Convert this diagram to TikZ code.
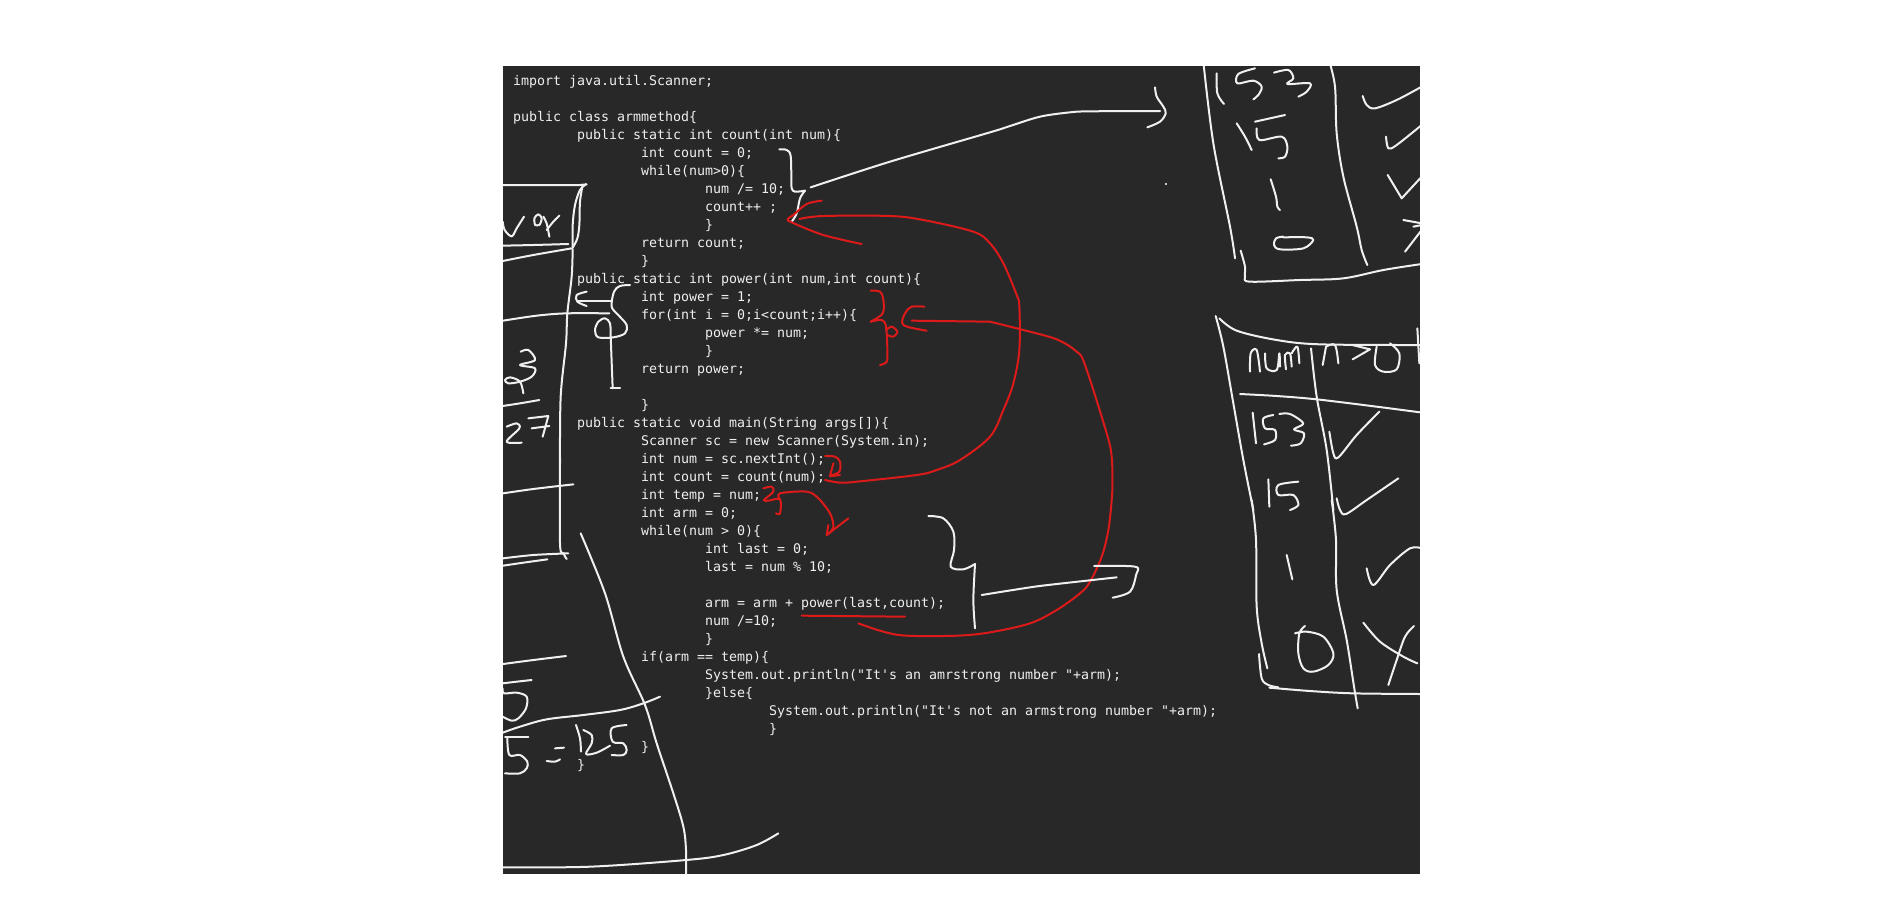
\documentclass[tikz,border=0pt]{standalone}
\usepackage{fontspec}
\newfontfamily\codefont{DejaVu Sans Mono}
\definecolor{boardbg}{HTML}{282828}
\definecolor{codeink}{HTML}{F0F0F0}
\definecolor{redink}{HTML}{DC1A1A}
\tikzset{
  codeline/.style={anchor=base west,inner sep=0pt,outer sep=0pt,text=codeink,font=\codefont\fontsize{6.645}{9}\selectfont},
  ink/.style={draw=white!94!black,line width=1pt,line cap=round,line join=round},
  redpen/.style={draw=redink,line width=1pt,line cap=round,line join=round},
  zoomat/.style 2 args={xshift={#1*0.5pt},yshift={-#2*0.5pt},x=0.166667pt,y=-0.166667pt}
}
\newcommand\wstroke[1]{\draw[ink] plot[smooth,tension=0.55] coordinates {#1};}
\newcommand\rstroke[1]{\draw[redpen] plot[smooth,tension=0.55] coordinates {#1};}
\newcommand\codeat[4]{\node[codeline] (#1) at ({513+8*#2},{85+18*(#3-1)}) {#4};}
\begin{document}
\begin{tikzpicture}[x=0.5pt,y=-0.5pt]
\useasboundingbox (0,0) rectangle (1877,921);
\fill[white] (0,0) rectangle (1877,921);
\fill[boardbg] (503,66) rectangle (1420,874);
% code
\codeat{l1}{0}{1}{import java.util.Scanner;}
\codeat{l3}{0}{3}{public class armmethod\{}
\codeat{l4}{8}{4}{public static int count(int num)\{}
\codeat{l5}{16}{5}{int count = 0;}
\codeat{l6}{16}{6}{while(num>0)\{}
\codeat{l7}{24}{7}{num /= 10;}
\codeat{l8}{24}{8}{count++ ;}
\codeat{l9}{24}{9}{\}}
\codeat{l10}{16}{10}{return count;}
\codeat{l11}{16}{11}{\}}
\codeat{l12}{8}{12}{public static int power(int num,int count)\{}
\codeat{l13}{16}{13}{int power = 1;}
\codeat{l14}{16}{14}{for(int i = 0;i<count;i++)\{}
\codeat{l15}{24}{15}{power *= num;}
\codeat{l16}{24}{16}{\}}
\codeat{l17}{16}{17}{return power;}
\codeat{l19}{16}{19}{\}}
\codeat{l20}{8}{20}{public static void main(String args[])\{}
\codeat{l21}{16}{21}{Scanner sc = new Scanner(System.in);}
\codeat{l22}{16}{22}{int num = sc.nextInt();}
\codeat{l23}{16}{23}{int count = count(num);}
\codeat{l24}{16}{24}{int temp = num;}
\codeat{l25}{16}{25}{int arm = 0;}
\codeat{l26}{16}{26}{while(num > 0)\{}
\codeat{l27}{24}{27}{int last = 0;}
\codeat{l28}{24}{28}{last = num \% 10;}
\codeat{l30}{24}{30}{arm = arm + power(last,count);}
\codeat{l31}{24}{31}{num /=10;}
\codeat{l32}{24}{32}{\}}
\codeat{l33}{16}{33}{if(arm == temp)\{}
\codeat{l34}{24}{34}{System.out.println("It's an amrstrong number "+arm);}
\codeat{l35}{24}{35}{\}else\{}
\codeat{l36}{32}{36}{System.out.println("It's not an armstrong number "+arm);}
\codeat{l37}{32}{37}{\}}
\codeat{l38}{16}{38}{\}}
\codeat{l39}{8}{39}{\}}
\begin{scope}
\clip (503,66) rectangle (1420,874);
% strokes in the coordinates of the crop at (490,50)
\begin{scope}[zoomat={490}{50}]
 \wstroke{(868,298)(890,300)(902,318)(904,390)(905,415)(915,425)(945,422)}
 \wstroke{(945,422)(930,445)(920,490)(905,515)}
 \wstroke{(962,412)(1200,335)(1500,247)(1560,228)(1650,200)(1740,187)(1800,184)(2010,183)}
 \wstroke{(1995,112)(2000,140)(2020,170)(2027,190)(2010,215)(1972,232)}
 \wstroke{(420,705)(390,708)(372,725)(365,770)(385,795)(410,825)(405,850)(370,862)(325,862)(315,840)(325,815)(345,805)(360,820)(362,860)(368,1015)}
 \draw[ink] (362,1015) -- (390,1015);
 \draw[ink] (362,752) -- (265,752);
 \wstroke{(290,725)(260,735)(262,755)(290,768)}
 \wstroke{(39,812)(140,797)(230,790)(358,790)}
 \wstroke{(248,597)(245,680)(232,790)(228,880)(212,1040)(210,1240)}
 % red
 \rstroke{(995,452)(950,462)(910,495)(893,507)(905,517)(1000,555)(1115,582)}
 \rstroke{(928,507)(1000,498)(1200,498)(1300,510)(1450,545)(1500,580)(1540,640)(1580,735)(1588,770)(1588,900)(1570,1000)(1540,1080)(1500,1160)(1410,1230)(1340,1260)(1280,1275)(1100,1295)(1050,1298)(1005,1290)}
 \draw[redpen] (1265,812) -- (1500,815);
 \rstroke{(1303,770)(1265,770)(1245,790)(1240,825)(1310,842)}
 \rstroke{(1500,815)(1600,840)(1700,868)(1760,905)(1785,945)(1850,1150)(1865,1220)(1867,1300)(1865,1350)(1855,1440)(1835,1520)(1800,1595)(1770,1630)(1700,1680)(1620,1720)(1500,1747)(1400,1757)(1250,1757)(1180,1745)(1105,1720)}
 \rstroke{(1142,722)(1170,725)(1180,750)(1178,790)(1142,815)}
 \rstroke{(1142,815)(1175,810)(1188,830)(1192,900)(1190,935)(1170,945)}
 \rstroke{(1188,840)(1205,830)(1222,845)(1210,860)(1192,855)}
\end{scope}
% left box, crop at (500,175)
\begin{scope}[zoomat={500}{175}]
 \draw[ink] (8,30) -- (240,30) -- (260,28);
 \wstroke{(258,28)(240,45)(225,90)(218,150)(218,215)}
 \wstroke{(248,30)(240,80)(238,150)(232,190)(218,218)}
 \wstroke{(8,212)(100,210)(205,207)}
 \wstroke{(8,258)(100,240)(215,220)}
 \wstroke{(8,140)(14,165)(35,184)(50,160)(72,125)}
 \wstroke{(105,150)(103,130)(115,118)(125,130)(118,150)(105,150)}
 \wstroke{(130,125)(140,145)(148,185)}
 \wstroke{(140,165)(160,140)(178,122)}
\end{scope}
% crop at (500,340)
\begin{scope}[zoomat={500}{340}]
 \wstroke{(62,35)(85,30)(105,60)(60,75)(105,85)(95,110)(60,125)(25,130)(15,120)(30,112)(60,125)(70,160)}
 \wstroke{(8,198)(60,190)(118,180)}
 \draw[ink] (85,235) -- (145,228) -- (128,290);
 \draw[ink] (95,265) -- (148,258);
 \wstroke{(20,260)(50,250)(58,265)(20,305)(65,308)}
\end{scope}
% crop at (490,460)
\begin{scope}[zoomat={490}{460}]
 \wstroke{(210,-5)(210,250)(220,280)(230,297)}
 \wstroke{(39,100)(130,87)(250,73)}
 \wstroke{(39,295)(130,285)(235,280)}
 \wstroke{(39,317)(100,308)(172,298)}
 \wstroke{(272,220)(345,400)(400,590)(465,735)(500,850)(550,1000)(580,1100)(588,1170)(588,1245)}
 \wstroke{(39,612)(130,600)(228,588)}
 \wstroke{(39,1222)(300,1220)(588,1200)(700,1185)(800,1155)(865,1120)}
 \wstroke{(1315,168)(1360,175)(1390,215)(1392,270)(1382,320)(1420,328)(1455,312)}
 \wstroke{(1455,312)(1450,420)(1455,505)}
 \wstroke{(1475,405)(1620,382)(1700,372)(1880,352)}
 \wstroke{(1812,318)(1935,320)(1938,345)(1920,395)(1868,413)}
 % red
 \draw[redpen] (935,467) -- (1245,470);
 \rstroke{(820,85)(845,80)(850,95)(822,120)(835,122)(870,118)(870,160)(858,160)}
 \rstroke{(870,118)(870,100)(950,95)(985,115)(1020,160)(1030,200)(1015,222)}
 \draw[redpen] (1075,175) -- (1010,225) -- (1015,195);
\end{scope}
% curl, crop at (780,440)
\begin{scope}[zoomat={780}{440}]
 \rstroke{(135,48)(165,50)(180,65)(178,95)(150,108)(180,105)}
 \draw[redpen] (160,70) -- (150,108);
\end{scope}
% crop at (500,680)
\begin{scope}[zoomat={500}{680}]
 \wstroke{(8,10)(50,5)(95,0)}
 \wstroke{(8,25)(12,40)(50,38)(80,50)(78,85)(55,115)(35,122)(8,110)}
 \wstroke{(8,158)(60,140)(140,118)(250,105)(360,90)(430,70)(480,50)}
 \draw[ink] (15,170) -- (85,170);
 \wstroke{(22,175)(28,225)(60,225)(82,245)(80,265)(60,280)(15,280)}
 \draw[ink] (165,205) -- (192,203);
 \wstroke{(140,243)(165,245)(180,238)}
 \wstroke{(228,135)(240,175)(243,215)}
 \wstroke{(250,150)(275,165)(275,190)(258,222)(290,218)(330,197)}
 \wstroke{(380,135)(335,145)(338,185)(370,190)(380,210)(370,225)(335,225)}
\end{scope}
% upper right table, crop at (1200,60)
\begin{scope}[zoomat={1200}{60}]
 \wstroke{(10,5)(40,250)(90,500)(105,595)}
 \wstroke{(50,40)(52,100)(72,132)}
 \wstroke{(165,25)(115,42)(112,70)(160,62)(185,80)(175,105)(160,118)}
 \wstroke{(222,38)(265,30)(280,55)(262,72)(330,70)(320,95)(295,110)}
 \wstroke{(110,190)(135,230)(155,270)}
 \draw[ink] (165,185) -- (255,165);
 \wstroke{(170,205)(178,240)(245,230)(262,260)(255,290)(235,295)}
 \wstroke{(212,358)(228,410)(232,440)(240,450)}
 \wstroke{(250,530)(228,535)(222,555)(240,568)(310,565)(340,540)(320,532)(250,532)}
 \wstroke{(388,5)(405,80)(410,220)(430,350)(470,500)(485,570)(502,615)}
 \wstroke{(122,572)(135,620)(135,650)(150,665)(300,660)(430,655)(550,630)(665,612)}
 \wstroke{(488,108)(500,135)(525,145)(590,120)(665,80)}
 \wstroke{(558,230)(565,265)(590,255)(665,195)}
 \draw[ink] (563,345) -- (605,415) -- (665,350);
 \draw[ink] (610,480) -- (665,490);
 \draw[ink] (665,510) -- (615,575);
 \draw[ink] (640,500) -- (665,495);
\end{scope}
\fill[white] (1166,184) circle (0.6pt);
% lower right table, crop at (1210,310)
\begin{scope}[zoomat={1210}{310}]
 \wstroke{(17,18)(40,110)(70,280)(100,450)(130,600)}
 \wstroke{(28,25)(80,62)(200,90)(330,103)(630,105)}
 \draw[ink] (622,55) -- (628,160);
 \wstroke{(120,185)(122,130)(140,120)(150,185)}
 \wstroke{(165,130)(170,175)(200,180)(208,130)(210,170)}
 \wstroke{(228,178)(225,135)(240,130)(245,170)}
 \wstroke{(245,130)(262,110)(268,160)}
 \wstroke{(303,115)(320,260)(350,420)(370,600)}
 \draw[ink] (338,165) -- (348,110);
 \wstroke{(348,110)(375,105)(385,160)}
 \draw[ink] (427,105) -- (480,118) -- (428,148);
 \wstroke{(500,110)(495,165)(520,185)(560,178)(568,130)(540,100)}
 \wstroke{(90,252)(200,258)(320,268)(500,290)(630,307)}
 \draw[ink] (128,308) -- (138,400);
 \wstroke{(190,315)(160,325)(165,355)(195,360)(195,390)(162,403)}
 \wstroke{(208,312)(240,312)(280,340)(252,358)(282,370)(272,400)(243,407)}
 \wstroke{(358,365)(370,430)(385,442)(440,375)(508,305)}
 \draw[ink] (175,508) -- (178,590);
 \wstroke{(265,515)(205,525)(205,555)(250,555)(265,585)(240,600)}
 \wstroke{(380,565)(390,600)(408,612)(470,570)(565,505)}
\end{scope}
% crop at (1210,500)
\begin{scope}[zoomat={1210}{500}]
 \wstroke{(125,0)(138,120)(140,320)(155,430)(172,505)}
 \wstroke{(365,0)(378,120)(380,270)(410,420)(432,560)(443,625)}
 \draw[ink] (230,165) -- (247,238);
 \wstroke{(470,205)(490,255)(540,195)(600,145)(635,145)}
 \wstroke{(255,400)(290,395)(340,410)(370,460)(355,495)(310,515)(280,505)(265,460)(268,400)(285,378)}
 \wstroke{(460,368)(510,425)(580,470)(622,490)}
 \wstroke{(612,378)(585,410)(560,480)(535,555)}
 \wstroke{(147,462)(155,535)(175,555)(205,562)}
 \wstroke{(178,563)(300,573)(430,580)(635,582)}
\end{scope}
\end{scope}
\end{tikzpicture}
\end{document}
